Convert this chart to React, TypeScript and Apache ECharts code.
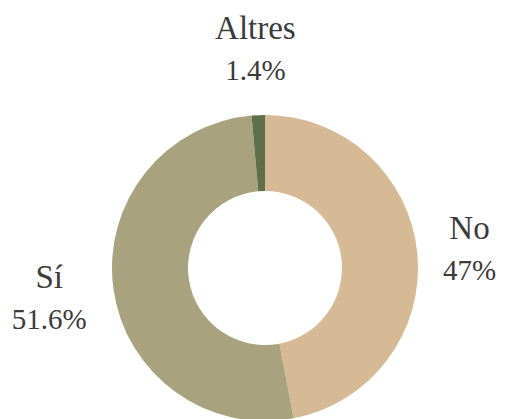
import React, { useEffect, useRef } from "react";
import * as echarts from "echarts";

const categories = ["No", "Sí", "Altres"];
const values = [47, 51.6, 1.4];
const colors = ["#d6b995", "#a8a27e", "#5f6f47"];

const CENTER: [number, number] = [265, 268];
const INNER = 77;
const OUTER = 153;
const LABEL_GAP = 22;

export default function App() {
  const ref = useRef<HTMLDivElement>(null);
  useEffect(() => {
    if (!ref.current) return;
    const chart = echarts.init(ref.current, undefined, { renderer: "svg" });
    const total = values.reduce((a, b) => a + b, 0);
    const base = {
      fontFamily: "Liberation Serif",
      lineHeight: 42,
      color: "#3b3b3b",
      align: "center",
    };
    chart.setOption({
      animation: false,
      backgroundColor: "#ffffff",
      series: [
        {
          type: "pie",
          center: CENTER,
          radius: [INNER, OUTER],
          startAngle: 90,
          clockwise: true,
          avoidLabelOverlap: false,
          data: categories.map((name, i) => ({
            name,
            value: values[i],
            itemStyle: { color: colors[i] },
          })),
          label: {
            show: true,
            position: "outside",
            formatter: "{n|{b}}\n{v|{c}%}",
            fontFamily: "Liberation Serif",
            fontSize: 33,
            lineHeight: 42,
            color: "#3b3b3b",
            rich: {
              n: { ...base, fontSize: 33 },
              v: { ...base, fontSize: 29 },
            },
          },
          labelLine: { show: false },
          emphasis: { disabled: true },
          labelLayout: (params: any) => {
            const idx = params.dataIndex;
            let cum = 0;
            for (let i = 0; i < idx; i++) cum += values[i];
            const mid = ((90 - ((cum + values[idx] / 2) / total) * 360) * Math.PI) / 180;
            const ux = Math.cos(mid);
            const uy = -Math.sin(mid);
            const r = params.labelRect;
            const w = r.width;
            const h = r.height;
            const support = (Math.abs(ux) * w) / 2 + (Math.abs(uy) * h) / 2;
            const d = OUTER + LABEL_GAP + support;
            const tx = CENTER[0] + ux * d;
            const ty = CENTER[1] + uy * d;
            return {
              dx: tx - (r.x + w / 2),
              dy: ty - (r.y + h / 2),
            };
          },
        },
      ],
    });
    return () => chart.dispose();
  }, []);
  return (
    <div
      ref={ref}
      style={{ position: "absolute", left: 0, top: 0, width: 515, height: 419 }}
    />
  );
}
